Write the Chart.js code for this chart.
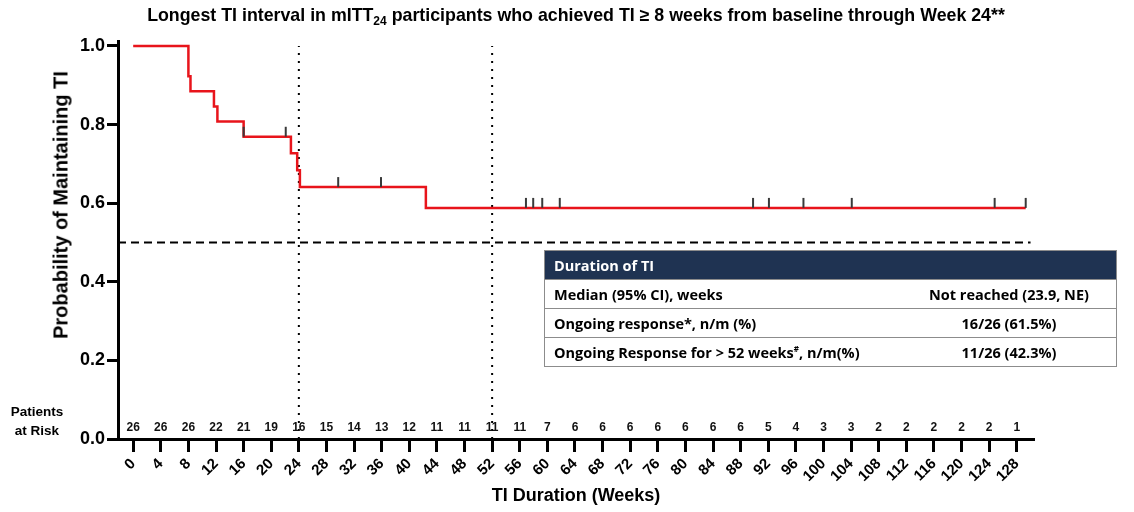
<!DOCTYPE html>
<html>
<head>
<meta charset="utf-8">
<script src="https://cdn.jsdelivr.net/npm/chart.js@4.4.1/dist/chart.umd.min.js"></script>
<style>
  html, body { margin: 0; padding: 0; background: #fff; }
  #wrap { position: relative; width: 1134px; height: 512px; overflow: hidden;
          font-family: "Liberation Sans", Arial, sans-serif; color: #000; }
  #chart { position: absolute; left: 0; top: 0; }
  #title { position: absolute; top: 5px; left: 0; width: 1152px; text-align: center;
           font-weight: bold; font-size: 17.8px; white-space: nowrap; }
  #title sub { font-size: 12px; vertical-align: -4px; line-height: 0; }
  #ytitle { position: absolute; left: 61px; top: 205px; transform: translate(-50%, -50%) rotate(-90deg);
            white-space: nowrap; font-weight: bold; font-size: 20px; }
  #xtitle { position: absolute; left: 576px; top: 495px; transform: translate(-50%, -50%);
            white-space: nowrap; font-weight: bold; font-size: 18px; }
  #risk { position: absolute; left: 0; top: 402px; width: 74px; text-align: center;
          font-weight: bold; font-size: 13.5px; line-height: 19px; }
  #table { position: absolute; left: 544px; top: 250px; width: 573px;
           font-family: "Open Sans", "Noto Sans", sans-serif; font-size: 14.5px; font-weight: 700;
           border: 1px solid #8c8c8c; box-sizing: border-box; }
  #table .row { display: flex; height: 28px; align-items: center; border-top: 1px solid #8c8c8c; }
  #table .head { background: #1f3352; color: #fff; border-top: none; height: 28px; }
  #table .l { width: 357px; padding-left: 9px; box-sizing: border-box; white-space: nowrap; }
  #table .r { flex: 1; text-align: center; white-space: nowrap; }
</style>
</head>
<body>
<div id="wrap">
  <canvas id="chart" width="1134" height="512"></canvas>
  <div id="title">Longest TI interval in mITT<sub>24</sub> participants who achieved TI ≥ 8 weeks from baseline through Week 24**</div>
  <div id="ytitle">Probability of Maintaining TI</div>
  <div id="xtitle">TI Duration (Weeks)</div>
  <div id="risk">Patients<br>at Risk</div>
  <div id="table">
    <div class="row head"><div class="l">Duration of TI</div><div class="r"></div></div>
    <div class="row"><div class="l">Median (95% CI), weeks</div><div class="r">Not reached (23.9, NE)</div></div>
    <div class="row"><div class="l">Ongoing response*, n/m (%)</div><div class="r">16/26 (61.5%)</div></div>
    <div class="row"><div class="l">Ongoing Response for &gt; 52 weeks<sup style="font-size:8px">#</sup>, n/m(%)</div><div class="r">11/26 (42.3%)</div></div>
  </div>
</div>
<script>
/* =========================
   DATA
========================= */
const xTicks = [0, 4, 8, 12, 16, 20, 24, 28, 32, 36, 40, 44, 48, 52, 56, 60, 64,
                68, 72, 76, 80, 84, 88, 92, 96, 100, 104, 108, 112, 116, 120, 124, 128];
const yTicks = [0, 0.2, 0.4, 0.6, 0.8, 1.0];
const atRisk = [26, 26, 26, 22, 21, 19, 16, 15, 14, 13, 12, 11, 11, 11, 11, 7, 6,
                6, 6, 6, 6, 6, 6, 5, 4, 3, 3, 2, 2, 2, 2, 2, 1];

// Kaplan-Meier steps (week, probability after the event)
const kmWeeks = [0, 8, 8.3, 11.7, 12.2, 16.0, 22.85, 23.76, 24.15, 42.4, 129.3];
const kmProb  = [1.0, 0.923, 0.885, 0.846, 0.808, 0.769, 0.727, 0.684, 0.641, 0.588, 0.588];

// censored observations
const censorWeeks = [16.0, 22.1, 29.7, 35.9, 56.9, 57.95, 59.26, 61.8, 89.8, 92.1, 97.1, 104.1, 124.8, 129.3];
const censorProb  = [0.769, 0.769, 0.641, 0.641, 0.588, 0.588, 0.588, 0.588, 0.588, 0.588, 0.588, 0.588, 0.588, 0.588];

const refWeeks = [24, 52];
const medianProb = 0.5;

const xMin = -2.2, xMax = 130.5;
const yMin = 0, yMax = 1.0127;

/* =========================
   PLUGIN: censor marks + at-risk row
========================= */
const overlayPlugin = {
  id: "overlay",
  afterDatasetsDraw(chart) {
    const { ctx, scales: { x, y } } = chart;
    ctx.save();
    ctx.strokeStyle = "#3a3a3a";
    ctx.lineWidth = 2;
    censorWeeks.forEach((w, i) => {
      const px = x.getPixelForValue(w);
      const py = y.getPixelForValue(censorProb[i]);
      ctx.beginPath();
      ctx.moveTo(px, py);
      ctx.lineTo(px, py - 10);
      ctx.stroke();
    });

    ctx.fillStyle = "#111";
    ctx.font = 'bold 12px "Liberation Sans"';
    ctx.textAlign = "center";
    ctx.textBaseline = "middle";
    xTicks.forEach((w, i) => {
      ctx.fillText(String(atRisk[i]), x.getPixelForValue(w), y.getPixelForValue(0) - 11);
    });
    ctx.restore();
  }
};

/* =========================
   CHART
========================= */
const kmData = kmWeeks.map((w, i) => ({ x: w, y: kmProb[i] }));

const datasets = [{
  data: kmData,
  showLine: true,
  stepped: "before",
  borderColor: "#e8141b",
  borderWidth: 2.5,
  pointRadius: 0,
  order: 0
}, {
  data: [{ x: xMin, y: medianProb }, { x: 130, y: medianProb }],
  showLine: true,
  borderColor: "#000",
  borderWidth: 2,
  borderDash: [8, 5],
  pointRadius: 0,
  order: 1
}];

refWeeks.forEach(w => {
  datasets.push({
    data: [{ x: w, y: 0 }, { x: w, y: 1.0 }],
    showLine: true,
    borderColor: "#000",
    borderWidth: 2,
    borderDash: [2, 6],
    pointRadius: 0,
    order: 1
  });
});

new Chart(document.getElementById("chart"), {
  type: "scatter",
  data: { datasets },
  options: {
    responsive: false,
    animation: false,
    devicePixelRatio: 1,
    layout: { padding: { top: 41, right: 100, left: 0, bottom: 0 } },
    plugins: { legend: { display: false }, tooltip: { enabled: false } },
    scales: {
      x: {
        type: "linear",
        min: xMin,
        max: xMax,
        afterBuildTicks: s => { s.ticks = xTicks.map(v => ({ value: v })); },
        afterFit: s => { s.height = 73; },
        grid: { drawOnChartArea: false, drawTicks: true, tickLength: 13, tickWidth: 3, tickColor: "#000" },
        border: { display: true, color: "#000", width: 3 },
        ticks: {
          autoSkip: false, maxRotation: 45, minRotation: 45, padding: 3,
          color: "#000",
          font: { family: "Liberation Sans", weight: "bold", size: 15 }
        }
      },
      y: {
        type: "linear",
        min: yMin,
        max: yMax,
        afterBuildTicks: s => { s.ticks = yTicks.map(v => ({ value: v })); },
        afterFit: s => { s.width = 118; },
        grid: { drawOnChartArea: false, drawTicks: true, tickLength: 11, tickWidth: 3, tickColor: "#000" },
        border: { display: true, color: "#000", width: 3 },
        ticks: {
          padding: 2,
          color: "#000",
          font: { family: "Liberation Sans", weight: "bold", size: 18 },
          callback: v => v.toFixed(1)
        }
      }
    }
  },
  plugins: [overlayPlugin]
});
</script>
</body>
</html>
